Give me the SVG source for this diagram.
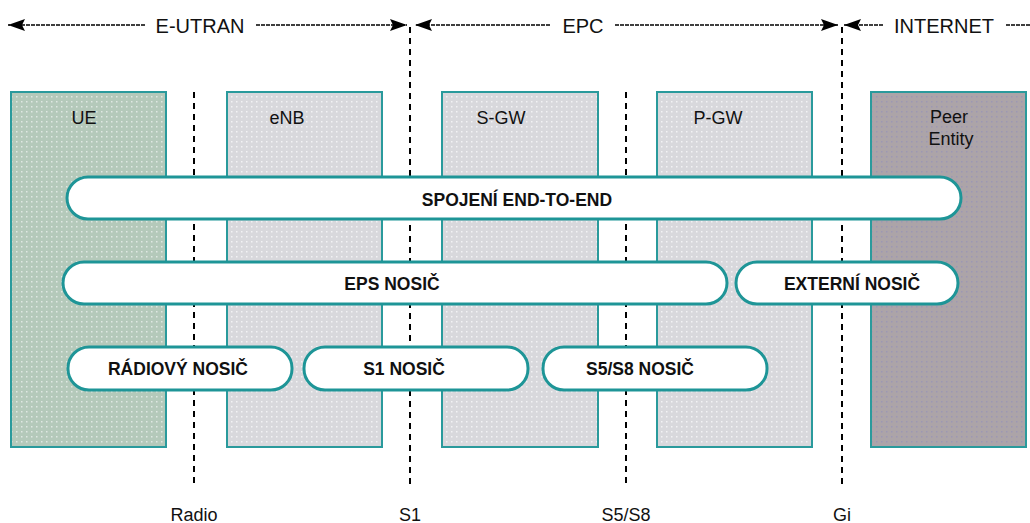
<svg xmlns="http://www.w3.org/2000/svg" width="1030" height="523" viewBox="0 0 1030 523">
<defs>
<pattern id="dotsG" width="5" height="5" patternUnits="userSpaceOnUse"><rect width="5" height="5" fill="#b4c9ba"/><rect x="1" y="1" width="1.5" height="1.5" fill="#dfe8e2"/></pattern>
<pattern id="dotsL" width="5" height="5" patternUnits="userSpaceOnUse"><rect width="5" height="5" fill="#d8d8dc"/><rect x="1" y="1" width="1.5" height="1.5" fill="#f2f2f4"/></pattern>
<pattern id="dotsD" width="5" height="5" patternUnits="userSpaceOnUse"><rect width="5" height="5" fill="#aca4a8"/><rect x="1" y="1" width="1.5" height="1.5" fill="#9c97b4"/></pattern>
<marker id="ah" viewBox="0 0 17 12" refX="17" refY="6" markerWidth="17" markerHeight="12" markerUnits="userSpaceOnUse" orient="auto"><path d="M0,0 L17,6 L0,12 L3,6 Z" fill="#000"/></marker>
</defs>
<style>
.box{stroke:#2a9a9c;stroke-width:2}
.bar{fill:#fff;stroke:#1e9597;stroke-width:3}
.lbl{font-family:"Liberation Sans",Arial,sans-serif;font-size:18px;fill:#111;text-anchor:middle}
.hdr{font-family:"Liberation Sans",Arial,sans-serif;font-size:20px;fill:#111;text-anchor:middle}
.bt{font-family:"Liberation Sans",Arial,sans-serif;font-size:17.5px;font-weight:bold;fill:#111;text-anchor:middle}
.dl{stroke:#000;stroke-width:2;stroke-dasharray:6,5;fill:none}
.al{stroke:#000;stroke-width:1.6;stroke-dasharray:4,1;fill:none}
</style>
<rect width="1030" height="523" fill="#fff"/>
<g id="header">
<line class="al" x1="256" y1="25" x2="407" y2="25" marker-end="url(#ah)"/>
<line class="al" x1="145" y1="25" x2="8" y2="25" marker-end="url(#ah)"/>
<text class="hdr" x="200" y="33">E-UTRAN</text>
<line class="al" x1="550" y1="25" x2="415" y2="25" marker-end="url(#ah)"/>
<line class="al" x1="615" y1="25" x2="838" y2="25" marker-end="url(#ah)"/>
<text class="hdr" x="583" y="33">EPC</text>
<line class="al" x1="883" y1="25" x2="844" y2="25" marker-end="url(#ah)"/>
<line class="al" x1="1006" y1="25" x2="1030" y2="25"/>
<text class="hdr" x="944" y="33">INTERNET</text>
</g>
<g id="ue"><rect class="box" x="11" y="92" width="155" height="355" fill="url(#dotsG)"/><text class="lbl" x="84" y="124">UE</text></g>
<g id="enb"><rect class="box" x="227" y="92" width="155" height="355" fill="url(#dotsL)"/><text class="lbl" x="287" y="124">eNB</text></g>
<g id="sgw"><rect class="box" x="442" y="92" width="156" height="355" fill="url(#dotsL)"/><text class="lbl" x="501" y="124">S-GW</text></g>
<g id="pgw"><rect class="box" x="657" y="92" width="155" height="355" fill="url(#dotsL)"/><text class="lbl" x="718" y="124">P-GW</text></g>
<g id="peer"><rect class="box" x="871" y="92" width="155" height="355" fill="url(#dotsD)"/><text class="lbl" x="949" y="123">Peer</text><text class="lbl" x="951" y="145">Entity</text></g>
<g id="connectors">
<line class="dl" x1="194" y1="92" x2="194" y2="486"/>
<line class="dl" x1="410" y1="27" x2="410" y2="486"/>
<line class="dl" x1="626" y1="92" x2="626" y2="486"/>
<line class="dl" x1="842" y1="27" x2="842" y2="486"/>
</g>
<g id="end-to-end"><rect class="bar" x="67" y="177" width="894" height="42" rx="21"/><text class="bt" x="517" y="206">SPOJENÍ END-TO-END</text></g>
<g id="eps"><rect class="bar" x="63" y="262" width="664" height="42" rx="21"/><text class="bt" x="392" y="290">EPS NOSIČ</text></g>
<g id="ext"><rect class="bar" x="736" y="262" width="222" height="42" rx="21"/><text class="bt" x="852" y="290">EXTERNÍ NOSIČ</text></g>
<g id="radio"><rect class="bar" x="68" y="347" width="224" height="43" rx="21"/><text class="bt" x="178" y="375">RÁDIOVÝ NOSIČ</text></g>
<g id="s1"><rect class="bar" x="304" y="347" width="224" height="43" rx="21"/><text class="bt" x="404" y="375">S1 NOSIČ</text></g>
<g id="s5s8"><rect class="bar" x="543" y="347" width="224" height="43" rx="21"/><text class="bt" x="640" y="375">S5/S8 NOSIČ</text></g>
<g id="labels">
<text class="lbl" x="194" y="521">Radio</text>
<text class="lbl" x="410" y="521">S1</text>
<text class="lbl" x="626" y="521">S5/S8</text>
<text class="lbl" x="842" y="521">Gi</text>
</g>
</svg>
